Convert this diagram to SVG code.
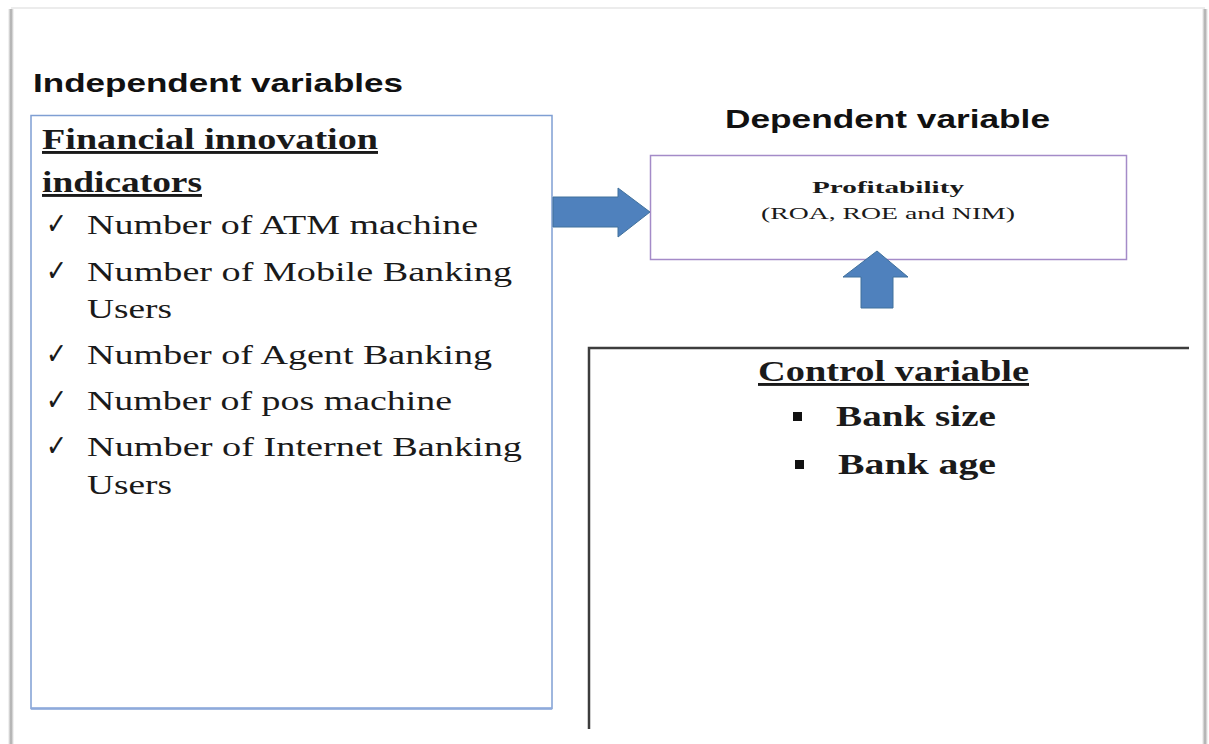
<svg xmlns="http://www.w3.org/2000/svg" width="1209" height="744" viewBox="0 0 1209 744">
  <defs>
    <style>
      .head { font-family: "Liberation Sans", Arial, sans-serif; font-weight: bold; font-size: 25px; fill: #111; }
      .serif { font-family: "Liberation Serif", "Times New Roman", serif; fill: #1a1a1a; }
      .title { font-size: 29px; font-weight: bold; text-decoration: underline; }
      .item { font-size: 28px; }
      .tick { font-family: "DejaVu Sans", sans-serif; font-size: 30px; fill: #1a1a1a; }
      .ctl { font-size: 29px; font-weight: bold; }
      .small { font-size: 17px; }
      .bluearrow { fill: #4f81bd; stroke: #41719c; stroke-width: 1; }
    </style>
    <linearGradient id="edgeL" x1="0" y1="0" x2="1" y2="0">
      <stop offset="0" stop-color="#ffffff"/>
      <stop offset="0.5" stop-color="#a8a8a8"/>
      <stop offset="1" stop-color="#ffffff"/>
    </linearGradient>
  </defs>

  <rect width="1209" height="744" fill="#ffffff"/>

  <!-- page frame with soft shadow -->
  <g id="page">
    <rect x="8" y="9" width="6" height="735" fill="url(#edgeL)"/>
    <rect x="1202" y="9" width="6" height="735" fill="url(#edgeL)"/>
    <line x1="11" y1="8" x2="1205" y2="8" stroke="#e6e6e6" stroke-width="1.5"/>
  </g>

  <!-- section headings -->
  <text class="head" x="33" y="92" textLength="370" lengthAdjust="spacingAndGlyphs">Independent variables</text>
  <text class="head" x="725" y="128" textLength="325" lengthAdjust="spacingAndGlyphs">Dependent variable</text>

  <!-- financial innovation indicators -->
  <g id="indicators">
    <rect x="31" y="115.5" width="521" height="593" fill="none" stroke="#7f9fd3" stroke-width="1.5"/>
    <line x1="31" y1="708.5" x2="552" y2="708.5" stroke="#8eaadb" stroke-width="2.5"/>
    <text class="serif title" x="42" y="149" textLength="336" lengthAdjust="spacingAndGlyphs">Financial  innovation</text>
    <text class="serif title" x="42" y="192" textLength="160" lengthAdjust="spacingAndGlyphs">indicators</text>
    <g class="tick">
      <text x="46" y="234" textLength="21" lengthAdjust="spacingAndGlyphs">✓</text>
      <text x="46" y="281" textLength="21" lengthAdjust="spacingAndGlyphs">✓</text>
      <text x="46" y="364" textLength="21" lengthAdjust="spacingAndGlyphs">✓</text>
      <text x="46" y="410" textLength="21" lengthAdjust="spacingAndGlyphs">✓</text>
      <text x="46" y="456" textLength="21" lengthAdjust="spacingAndGlyphs">✓</text>
    </g>
    <g class="serif item">
      <text x="87" y="234" textLength="391" lengthAdjust="spacingAndGlyphs">Number  of ATM  machine</text>
      <text x="87" y="281" textLength="425" lengthAdjust="spacingAndGlyphs">Number  of Mobile  Banking</text>
      <text x="87" y="318" textLength="85" lengthAdjust="spacingAndGlyphs">Users</text>
      <text x="87" y="364" textLength="405" lengthAdjust="spacingAndGlyphs">Number  of Agent  Banking</text>
      <text x="87" y="410" textLength="365" lengthAdjust="spacingAndGlyphs">Number  of pos machine</text>
      <text x="87" y="456" textLength="435" lengthAdjust="spacingAndGlyphs">Number  of Internet  Banking</text>
      <text x="87" y="494" textLength="85" lengthAdjust="spacingAndGlyphs">Users</text>
    </g>
  </g>

  <!-- profitability -->
  <g id="profitability">
    <rect x="650.5" y="155.5" width="476" height="104" fill="#ffffff" stroke="#a48bc8" stroke-width="1.5"/>
    <text class="serif small" x="888" y="193" text-anchor="middle" font-weight="bold" textLength="152" lengthAdjust="spacingAndGlyphs">Profitability</text>
    <text class="serif small" x="888" y="219" text-anchor="middle" textLength="254" lengthAdjust="spacingAndGlyphs">(ROA, ROE  and NIM)</text>
  </g>

  <!-- control variables -->
  <g id="control">
    <path d="M589 729 V348 H1189" fill="none" stroke="#3d3d3d" stroke-width="2.5"/>
    <text class="serif title" x="758" y="381" textLength="271" lengthAdjust="spacingAndGlyphs">Control  variable</text>
    <rect x="793" y="412" width="9" height="9" fill="#111"/>
    <text class="serif ctl" x="836" y="426" textLength="160" lengthAdjust="spacingAndGlyphs">Bank size</text>
    <rect x="795" y="460" width="9" height="9" fill="#111"/>
    <text class="serif ctl" x="838" y="474" textLength="158" lengthAdjust="spacingAndGlyphs">Bank age</text>
  </g>

  <!-- connectors -->
  <g id="connectors">
    <path class="bluearrow" d="M553 197 H618 V188 L650 212 L618 237 V227 H553 Z"/>
    <path class="bluearrow" d="M861 308 V277 H843 L877 251 L908 277 H893 V308 Z"/>
  </g>
</svg>
